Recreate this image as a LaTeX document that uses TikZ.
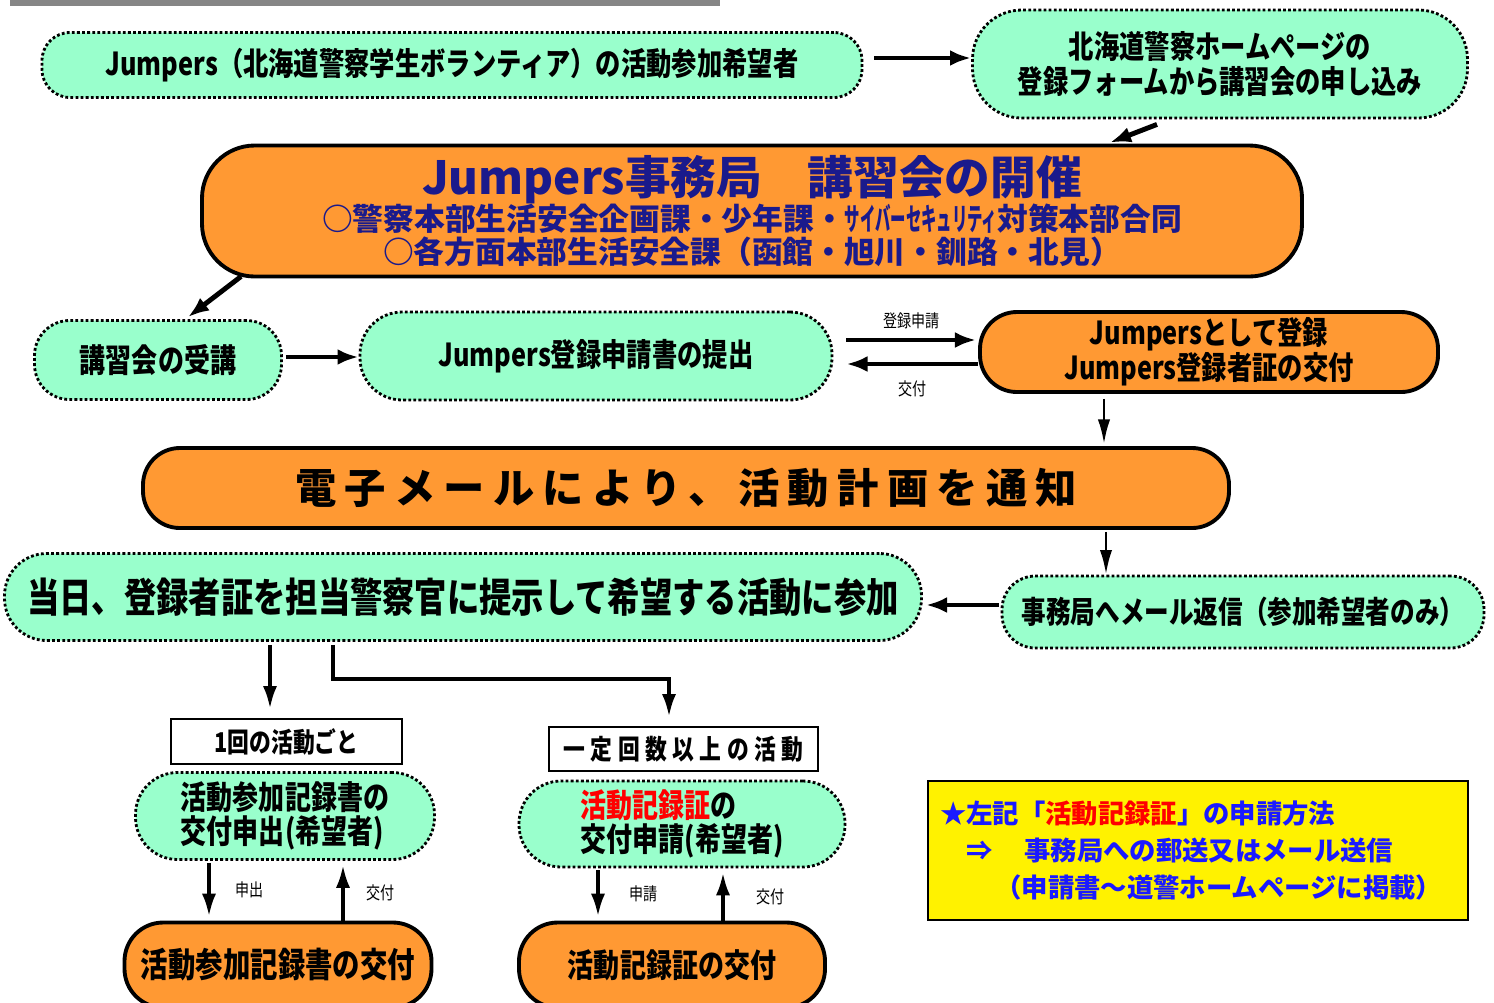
\documentclass[tikz,border=0pt]{standalone}
\usepackage{fontspec}
\usetikzlibrary{arrows.meta,calc}
\setmainfont{Noto Sans CJK JP}
\newfontfamily\jpc{Noto Sans CJK JP}[FakeStretch=0.8]
\newfontfamily\jpn{Noto Sans CJK JP}

\definecolor{mint}{HTML}{99FFCC}
\definecolor{orng}{HTML}{FF9933}
\definecolor{jnavy}{HTML}{1A1A8C}
\definecolor{jblue}{HTML}{1A1AFF}

\tikzset{
  wh/.style 2 args={minimum width=#1*0.02cm, minimum height=#2*0.02cm},
  mintbox/.style={draw, fill=mint, line width=1.6pt, dash pattern=on 1.6pt off 1.3pt,
    align=center, inner sep=0pt, font=\jpc\bfseries\fontsize{18}{20}\selectfont},
  orbox/.style={draw, fill=orng, line width=2.2pt, align=center, inner sep=0pt,
    font=\jpc\bfseries\fontsize{18}{20}\selectfont},
  plainbox/.style={draw, fill=white, line width=1.2pt, inner sep=0pt,
    font=\jpc\bfseries\fontsize{15.5}{18}\selectfont},
  arr/.style={line width=2.8pt, -{Latex[length=12pt,width=9pt]}},
  tarr/.style={line width=1.6pt, -{Latex[length=14pt,width=7pt]}},
  darr/.style={line width=2.2pt, line join=miter, -{Latex[length=13pt,width=8pt]}},
  lbl/.style={font=\jpc\fontsize{10}{12}\selectfont, inner sep=0pt}
}

\begin{document}
\begin{tikzpicture}[x=0.02cm, y=-0.02cm]
  \useasboundingbox (0,0) rectangle (1494,1002);
  \clip (0,0) rectangle (1494,1002);
  \fill[gray!95] (10,0) rectangle (720,6);

  % top row
  \node[mintbox, wh={820}{65}, rounded corners=16pt] (wish) at (452,65)
    {Jumpers（北海道警察学生ボランティア）の活動参加希望者};
  \node[mintbox, wh={495}{108}, rounded corners=28pt] (form) at (1220,64)
    {北海道警察ホームページの\\登録フォームから講習会の申し込み};

  % office
  \node[orbox, wh={1100}{131}, rounded corners=30pt, text=jnavy,
    font=\jpn\bfseries\fontsize{17.5}{18.5}\selectfont] (office) at (752,211)
    {{\fontsize{26}{28}\selectfont Jumpers事務局　講習会の開催}\\[-1pt]
     ○警察本部生活安全企画課・少年課・\scalebox{0.5}[1]{サイバーセキュリティ}対策本部合同\\
     ○各方面本部生活安全課（函館・旭川・釧路・北見）};

  % second row
  \node[mintbox, wh={247}{79}, rounded corners=20pt,
    font=\jpc\bfseries\fontsize{18.5}{20}\selectfont] (lecture) at (158,360) {講習会の受講};
  \node[mintbox, wh={472}{88}, rounded corners=24pt] (register) at (596,356)
    {Jumpers登録申請書の提出};
  \node[orbox, wh={458}{80}, rounded corners=21pt] (certif) at (1209,352)
    {Jumpersとして登録\\Jumpers登録者証の交付};

  % notice
  \node[orbox, wh={1086}{80}, rounded corners=21pt,
    font=\jpn\bfseries\fontsize{23.5}{26}\selectfont\addfontfeature{LetterSpace=20}] (notice) at (686,488)
    {電子メールにより、活動計画を通知};

  % participation
  \node[mintbox, wh={917}{87}, rounded corners=24pt,
    font=\jpc\bfseries\fontsize{23}{26}\selectfont] (join) at (463,597)
    {当日、登録者証を担当警察官に提示して希望する活動に参加};
  \node[mintbox, wh={482}{72}, rounded corners=19pt,
    font=\jpc\bfseries\fontsize{17.5}{20}\selectfont] (reply) at (1243,612)
    {事務局へメール返信（参加希望者のみ）};

  % bottom
  \node[plainbox, wh={231}{45}] (perone) at (286.5,741.5) {1回の活動ごと};
  \node[plainbox, wh={269}{44},
    font=\jpc\bfseries\fontsize{15.5}{18}\selectfont\addfontfeature{LetterSpace=20}] (perfew) at (683.5,749)
    {一定回数以上の活動};
  \node[mintbox, wh={299}{87}, rounded corners=24pt, align=left,
    font=\jpc\bfseries\fontsize{18.5}{19}\selectfont] (recreq) at (285,816)
    {活動参加記録書の\\交付申出(希望者)};
  \node[mintbox, wh={326}{86}, rounded corners=24pt, align=left,
    font=\jpc\bfseries\fontsize{18.5}{19}\selectfont] (certreq) at (682,824)
    {\textcolor{red}{活動記録証}の\\交付申請(希望者)};
  \node[orbox, wh={307}{85}, rounded corners=22pt,
    font=\jpc\bfseries\fontsize{19.5}{22}\selectfont] (recgive) at (278,965)
    {活動参加記録書の交付};
  \node[orbox, wh={306}{85}, rounded corners=22pt,
    font=\jpc\bfseries\fontsize{18.5}{22}\selectfont] (certgive) at (672,965)
    {活動記録証の交付};

  \node[draw, fill=yellow, line width=1pt, wh={540}{139}, inner sep=0pt,
    text width=516*0.02cm, align=left, text=jblue,
    font=\jpn\bfseries\fontsize{15}{21}\selectfont] (howto) at (1198,850.5)
    {★左記「\textcolor{red}{活動記録証}」の申請方法\\
     \hspace*{1em}⇒\hspace{1.2em}事務局への郵送又はメール送信\\
     \hspace*{2.1em}（申請書～道警ホームページに掲載）};

  % arrows
  \draw[arr] ($(wish.east)+(11,-7)$) -- ($(form.west)+(0,-6)$);
  \draw[arr] ($(form.south)+(-63,5)$) -- ($(office.north)+(358,-1)$);
  \draw[arr] ($(office.south west)+(41,-2)$) -- ($(lecture.north)+(30,-2)$);
  \draw[arr] ($(lecture.east)+(3,-3)$) -- ($(register.west)+(0,1)$);
  \draw[arr] ($(register.east)+(13,-16)$) -- node[lbl, above=5pt] (lblapply) {登録申請}
    ($(certif.west)+(-2,-12)$);
  \draw[arr] ($(certif.west)+(0,12)$) -- node[lbl, below=8pt] (lblissue) {交付}
    ($(register.east)+(13,8)$);
  \draw[tarr] ($(certif.south)+(-105,5)$) -- ($(notice.north)+(418,-2)$);
  \draw[tarr] ($(notice.south)+(420,2)$) -- ($(reply.north)+(-137,0)$);
  \draw[arr] ($(reply.west)+(-2,-7)$) -- ($(join.east)+(3,8)$);
  \draw[darr] ($(join.south)+(-193,3)$) -- ($(perone.north)+(-16.5,-9)$);
  \draw[darr] ($(join.south)+(-130,3)$) |- ($(perfew.north)+(-14.5,-47)$)
    -- ($(perfew.north)+(-14.5,-9)$);
  \draw[darr] ($(recreq.south)+(-76,2)$) -- node[lbl, right=14pt] (lblask) {申出}
    ($(recgive.north)+(-69,-4)$);
  \draw[darr] ($(recgive.north)+(65,0)$) -- node[lbl, right=12pt] (lblgive) {交付}
    ($(recreq.south)+(58,4)$);
  \draw[darr] ($(certreq.south)+(-84,2)$) -- node[lbl, right=17pt] (lblreq) {申請}
    ($(certgive.north)+(-74,-4)$);
  \draw[darr] ($(certgive.north)+(51,0)$) -- node[lbl, right=18pt] (lblsend) {交付}
    ($(certreq.south)+(41,4)$);
\end{tikzpicture}
\end{document}
